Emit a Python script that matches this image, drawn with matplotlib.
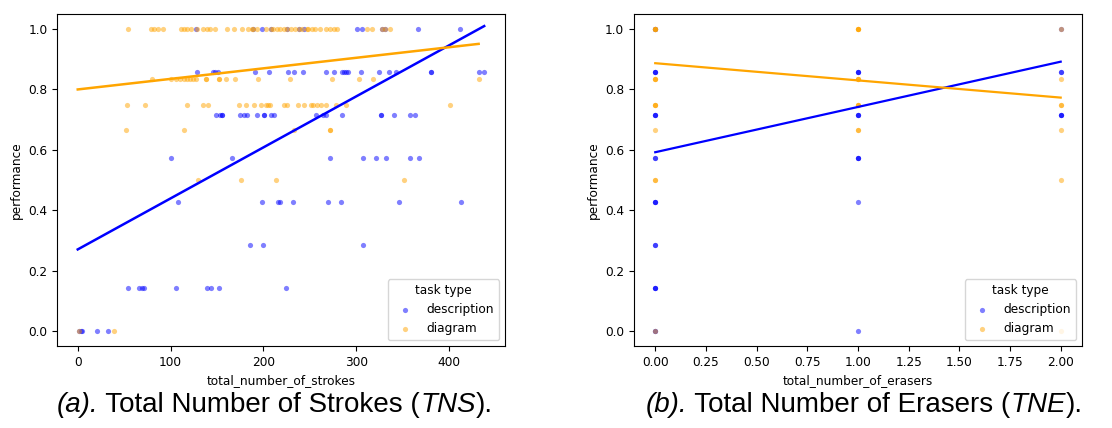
import matplotlib
matplotlib.use("Agg")
import matplotlib.pyplot as plt
import numpy as np

# performance levels
levels_desc = [1.0, 6 / 7, 5 / 7, 4 / 7, 3 / 7, 2 / 7, 1 / 7, 0.0]
levels_diag = [1.0, 5 / 6, 0.75, 2 / 3, 0.5, 0.0]

# total_number_of_strokes per performance level, description tasks
desc_strokes = [
    [127, 189, 199, 208, 226, 238, 244, 301, 306, 328, 331, 367, 412],
    [129, 146, 148, 151, 191, 206, 227, 233, 243, 267, 276, 285, 287, 289, 291,
     305, 325, 335, 343, 381, 381, 432, 438],
    [149, 153, 155, 155, 175, 179, 182, 193, 201, 201, 208, 211, 257, 264, 267,
     285, 327, 327, 341, 358, 363],
    [101, 166, 272, 307, 321, 332, 358, 368],
    [108, 199, 216, 218, 232, 270, 284, 346, 413],
    [186, 200, 307],
    [54, 66, 69, 71, 106, 139, 144, 152, 224],
    [1, 3, 5, 21, 33],
]

# total_number_of_strokes per performance level, diagram tasks
diag_strokes = [
    [54, 79, 82, 87, 92, 111, 115, 118, 122, 128, 135, 139, 143, 148, 161, 168,
     177, 183, 188, 189, 193, 203, 208, 210, 215, 218, 222, 226, 230, 234, 238,
     242, 247, 248, 252, 256, 261, 267, 272, 276, 279, 312, 317, 328, 331, 337],
    [80, 101, 106, 110, 114, 118, 121, 124, 127, 138, 138, 152, 152, 160, 170,
     194, 229, 274, 303, 318, 432],
    [53, 72, 118, 135, 140, 174, 181, 190, 198, 203, 205, 207, 222, 226, 237,
     244, 251, 254, 258, 262, 267, 278, 289, 401],
    [52, 114, 233, 272, 272],
    [130, 176, 214, 352],
    [1, 39],
]

# total_number_of_erasers vs performance
desc_erasers = [0, 0, 0, 0, 0, 0, 0, 0, 0, 0, 0, 0, 0, 0, 0, 0, 0, 0, 0, 0,
                1, 1, 1, 1, 1, 1, 1, 1, 1, 1, 1, 2, 2, 2, 2, 2, 2]
desc_erasers_perf = [1.0, 1.0, 6 / 7, 6 / 7, 6 / 7, 5 / 7, 5 / 7, 5 / 7, 4 / 7, 4 / 7,
                     3 / 7, 3 / 7, 3 / 7, 2 / 7, 2 / 7, 1 / 7, 1 / 7, 1 / 7, 0.0, 0.0,
                     6 / 7, 6 / 7, 6 / 7, 5 / 7, 5 / 7, 5 / 7, 4 / 7, 4 / 7, 4 / 7, 3 / 7, 0.0,
                     1.0, 6 / 7, 6 / 7, 5 / 7, 5 / 7, 5 / 7]
diag_erasers = [0, 0, 0, 0, 0, 0, 0, 0, 0, 0, 0, 0, 0, 0,
                1, 1, 1, 1, 1, 1, 1, 1, 1, 1, 1, 1,
                2, 2, 2, 2, 2, 2, 2]
diag_erasers_perf = [1.0, 1.0, 1.0, 1.0, 5 / 6, 5 / 6, 5 / 6, 0.75, 0.75, 0.75, 2 / 3,
                     0.5, 0.5, 0.0,
                     1.0, 1.0, 1.0, 1.0, 5 / 6, 5 / 6, 5 / 6, 0.75, 0.75, 0.75, 2 / 3, 2 / 3,
                     1.0, 5 / 6, 0.75, 0.75, 2 / 3, 0.5, 0.0]

# regression lines (x ends, y ends)
strokes_fit_x_desc = [0, 438]
strokes_fit_y_desc = [0.27, 1.01]
strokes_fit_x_diag = [0, 432]
strokes_fit_y_diag = [0.80, 0.951]
erasers_fit_x = [0, 2]
erasers_fit_y_desc = [0.592, 0.892]
erasers_fit_y_diag = [0.887, 0.773]

# captions as (text, italic) pieces
caption_a = [("(a).", True), (" Total Number of Strokes (", False), ("TNS", True), (").", False)]
caption_b = [("(b).", True), (" Total Number of Erasers (", False), ("TNE", True), (").", False)]

plt.rcParams["font.family"] = "DejaVu Sans"

fs = 8.7
fig = plt.figure(figsize=(11.12, 4.28), dpi=100)
ax1 = fig.add_axes([0.0513, 0.1916, 0.4029, 0.7757])
ax2 = fig.add_axes([0.5701, 0.1916, 0.4029, 0.7757])

# left panel
dx = np.concatenate(desc_strokes)
dy = np.concatenate([[lv] * len(v) for lv, v in zip(levels_desc, desc_strokes)])
gx = np.concatenate(diag_strokes)
gy = np.concatenate([[lv] * len(v) for lv, v in zip(levels_diag, diag_strokes)])

ax1.scatter(dx, dy, s=14, color="blue", alpha=0.5, linewidths=0, label="description")
ax1.scatter(gx, gy, s=14, color="orange", alpha=0.5, linewidths=0, label="diagram")
ax1.plot(strokes_fit_x_desc, strokes_fit_y_desc, color="blue", lw=1.8)
ax1.plot(strokes_fit_x_diag, strokes_fit_y_diag, color="orange", lw=1.8)
ax1.set_xlim(-22.3, 460.5)
ax1.set_xticks([0, 100, 200, 300, 400])
ax1.set_xlabel("total_number_of_strokes", fontsize=fs)

# right panel
ax2.scatter(desc_erasers, desc_erasers_perf, s=14, color="blue", alpha=0.5, linewidths=0,
            label="description")
ax2.scatter(diag_erasers, diag_erasers_perf, s=14, color="orange", alpha=0.5, linewidths=0,
            label="diagram")
ax2.plot(erasers_fit_x, erasers_fit_y_desc, color="blue", lw=1.6)
ax2.plot(erasers_fit_x, erasers_fit_y_diag, color="orange", lw=1.6)
ax2.set_xlim(-0.105, 2.105)
ax2.set_xticks(np.arange(0, 2.01, 0.25))
ax2.xaxis.set_major_formatter(matplotlib.ticker.FormatStrFormatter("%.2f"))
ax2.set_xlabel("total_number_of_erasers", fontsize=fs)

for ax in (ax1, ax2):
    ax.set_ylim(-0.05, 1.05)
    ax.set_yticks([0.0, 0.2, 0.4, 0.6, 0.8, 1.0])
    ax.yaxis.set_major_formatter(matplotlib.ticker.FormatStrFormatter("%.1f"))
    ax.set_ylabel("performance", fontsize=fs)
    ax.tick_params(labelsize=fs)
    ax.legend(title="task type", loc="lower right", fontsize=fs, title_fontsize=fs)


def caption(pieces, xc, y):
    # measure each piece, then lay them out left to right centred on xc
    renderer = fig.canvas.get_renderer()
    texts = []
    for s, it in pieces:
        t = fig.text(0, y, s, fontsize=20, family="Liberation Sans",
                     style="italic" if it else "normal", va="center", ha="left")
        texts.append(t)
    widths = [t.get_window_extent(renderer).width / fig.bbox.width for t in texts]
    x = xc - sum(widths) / 2
    for t, w in zip(texts, widths):
        t.set_x(x)
        x += w


caption(caption_a, 0.247, 0.054)
caption(caption_b, 0.777, 0.054)

fig.savefig("out.png", dpi=100)
